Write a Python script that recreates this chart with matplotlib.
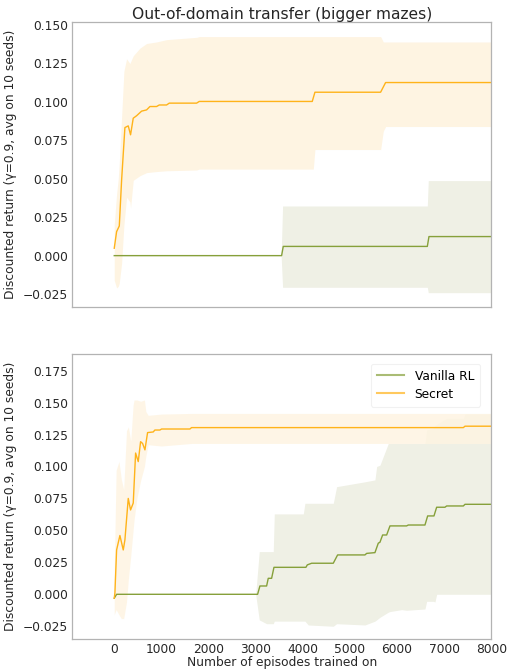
import matplotlib
matplotlib.use("Agg")
import matplotlib.pyplot as plt

# colours
GREEN = "#86a03a"
ORANGE = "#ffb31a"
GREEN_FILL = "#eff0e5"
ORANGE_FILL = "#fef4e2"

# ---------------- top panel: out-of-domain transfer ----------------
top_secret_x = [0, 50, 107, 156, 226, 297, 346, 403, 474, 580, 686, 757, 898, 955,
                1110, 1167, 1747, 1803, 4200, 4257, 5650, 5756, 8000]
top_secret_y = [0.0048, 0.0156, 0.0193, 0.049, 0.0833, 0.0844, 0.0786, 0.0894, 0.091,
                0.094, 0.0948, 0.097, 0.097, 0.098, 0.098, 0.0992, 0.0992, 0.1003,
                0.1003, 0.1063, 0.1063, 0.1126, 0.1126]
top_secret_band_x = [0, 50, 85, 106, 156, 205, 262, 332, 346, 403, 545, 686, 898, 1110,
                     1747, 1803, 4222, 4257, 5651, 5707, 5757, 8000]
top_secret_hi = [0.02, 0.04, 0.05, 0.06, 0.09, 0.12, 0.128, 0.125, 0.126, 0.13, 0.135,
                 0.138, 0.139, 0.1405, 0.142, 0.1425, 0.1425, 0.1425, 0.1425, 0.139,
                 0.139, 0.139]
top_secret_lo = [-0.016, -0.021, -0.02, -0.018, -0.005, 0.02, 0.038, 0.035, 0.031, 0.049,
                 0.052, 0.054, 0.0547, 0.0552, 0.0557, 0.0563, 0.0563, 0.069, 0.069,
                 0.081, 0.084, 0.084]

top_vanilla_x = [0, 3550, 3585, 6641, 6676, 8000]
top_vanilla_y = [0.0, 0.0, 0.006, 0.006, 0.0124, 0.0124]
top_vanilla_band_x = [0, 3540, 3571, 6641, 6661, 8000]
top_vanilla_hi = [0.0, 0.0, 0.0323, 0.0323, 0.0488, 0.0488]
top_vanilla_lo = [0.0, 0.0, -0.0206, -0.0206, -0.0241, -0.0241]

# ---------------- bottom panel ----------------
bot_secret_x = [0, 14, 50, 120, 191, 226, 297, 346, 403, 453, 509, 559, 601, 651, 707,
                827, 862, 968, 1004, 1605, 1640, 7405, 7440, 8000]
bot_secret_y = [-0.003, 0.001, 0.0347, 0.046, 0.0347, 0.0425, 0.075, 0.066, 0.0714,
                0.1105, 0.1038, 0.1194, 0.118, 0.113, 0.1265, 0.127, 0.1285, 0.1285,
                0.1293, 0.1293, 0.1304, 0.1304, 0.1315, 0.1315]
bot_secret_band_x = [0, 40, 100, 150, 200, 260, 300, 350, 400, 420, 480, 560, 640, 670,
                     720, 1000, 1640, 8000]
bot_secret_hi = [0.02, 0.097, 0.104, 0.09, 0.082, 0.128, 0.131, 0.12, 0.148, 0.152,
                 0.152, 0.151, 0.152, 0.143, 0.140, 0.141, 0.1415, 0.1415]
bot_secret_lo = [-0.016, -0.012, -0.016, -0.019, -0.019, -0.006, 0.012, 0.03, 0.05,
                 0.058, 0.075, 0.089, 0.100, 0.108, 0.117, 0.116, 0.118, 0.118]

bot_vanilla_x = [0, 50, 2808, 3041, 3090, 3232, 3267, 3338, 3388, 4066, 4095, 4187,
                 4646, 4738, 5318, 5354, 5530, 5601, 5636, 5693, 5778, 5849, 6202,
                 6237, 6591, 6648, 6782, 6839, 7015, 7051, 7405, 7440, 8000]
bot_vanilla_y = [-0.003, 0.0, 0.0, 0.0, 0.0065, 0.0065, 0.0125, 0.0125, 0.0211, 0.0211,
                 0.023, 0.0243, 0.0243, 0.0308, 0.0308, 0.032, 0.0326, 0.040, 0.0407,
                 0.0464, 0.0464, 0.0535, 0.0535, 0.0542, 0.0542, 0.0613, 0.0613,
                 0.0681, 0.0681, 0.0691, 0.0691, 0.0704, 0.0704]
bot_vanilla_band_x = [0, 3000, 3076, 3232, 3373, 3395, 4010, 4045, 4116, 4646, 4717,
                      5318, 5530, 5566, 5636, 5813, 5849, 6096, 6202, 6591, 6627, 6768,
                      6803, 6839, 7051, 7405, 7440, 8000]
bot_vanilla_hi = [0.0, 0.0, 0.0334, 0.0334, 0.0334, 0.0629, 0.0629, 0.0712, 0.0712,
                  0.0712, 0.0842, 0.088, 0.0895, 0.10, 0.101, 0.118, 0.118, 0.118, 0.118,
                  0.118, 0.1286, 0.130, 0.132, 0.133, 0.1377, 0.1377, 0.141, 0.141]
bot_vanilla_lo = [0.0, 0.0, -0.020, -0.023, -0.023, -0.021, -0.021, -0.021, -0.024,
                  -0.025, -0.023, -0.024, -0.021, -0.020, -0.018, -0.014, -0.0135,
                  -0.012, -0.0125, -0.0115, -0.0055, -0.0055, -0.006, 0.0, 0.0, 0.0,
                  0.0, 0.0]

x_ticks = [0, 1000, 2000, 3000, 4000, 5000, 6000, 7000, 8000]
top_yticks = [-0.025, 0.0, 0.025, 0.05, 0.075, 0.1, 0.125, 0.15]
bot_yticks = [-0.025, 0.0, 0.025, 0.05, 0.075, 0.1, 0.125, 0.15, 0.175]

ylabel = "Discounted return (\u03b3=0.9, avg on 10 seeds)"

plt.rcParams["font.family"] = "DejaVu Sans"
fs = 8.8

fig = plt.figure(figsize=(5.08, 6.69), dpi=100)
ax1 = fig.add_axes([0.1423, 0.5416, 0.825, 0.4251])
ax2 = fig.add_axes([0.1423, 0.0444, 0.825, 0.4265])

for ax in (ax1, ax2):
    for s in ax.spines.values():
        s.set_color("#b3b3b3")
        s.set_linewidth(0.9)
    ax.tick_params(length=0, labelsize=fs, colors="#262626", pad=3)
    ax.set_xlim(-890, 8000)
    ax.set_ylabel(ylabel, fontsize=fs, color="#262626", labelpad=4)

# top panel
ax1.fill_between(top_vanilla_band_x, top_vanilla_lo, top_vanilla_hi, color=GREEN_FILL, lw=0)
ax1.fill_between(top_secret_band_x, top_secret_lo, top_secret_hi, color=ORANGE_FILL, lw=0)
ax1.plot(top_vanilla_x, top_vanilla_y, color=GREEN, lw=1.0)
ax1.plot(top_secret_x, top_secret_y, color=ORANGE, lw=1.0)
ax1.set_ylim(-0.0332, 0.1518)
ax1.set_yticks(top_yticks)
ax1.set_yticklabels(["\u22120.025", "0.000", "0.025", "0.050", "0.075", "0.100", "0.125", "0.150"])
ax1.set_xticks([])
ax1.set_title("Out-of-domain transfer (bigger mazes)", fontsize=11.2, color="#262626", pad=2.5)

# bottom panel
ax2.fill_between(bot_vanilla_band_x, bot_vanilla_lo, bot_vanilla_hi, color=GREEN_FILL, lw=0)
ax2.fill_between(bot_secret_band_x, bot_secret_lo, bot_secret_hi, color=ORANGE_FILL, lw=0,
                 alpha=0.85)
ax2.plot(bot_vanilla_x, bot_vanilla_y, color=GREEN, lw=1.0, label="Vanilla RL")
ax2.plot(bot_secret_x, bot_secret_y, color=ORANGE, lw=1.0, label="Secret")
ax2.set_ylim(-0.0352, 0.188)
ax2.set_yticks(bot_yticks)
ax2.set_yticklabels(["\u22120.025", "0.000", "0.025", "0.050", "0.075", "0.100", "0.125",
                     "0.150", "0.175"])
ax2.set_xticks(x_ticks)
ax2.set_xlabel("Number of episodes trained on", fontsize=fs, color="#262626", labelpad=0)
leg = ax2.legend(loc="upper right", fontsize=fs, frameon=True, handlelength=2.2,
                 borderpad=0.5, labelspacing=0.4, handletextpad=0.9,
                 bbox_to_anchor=(0.988, 0.988))
leg.get_frame().set_edgecolor("#eeeeee")
leg.get_frame().set_linewidth(0.8)
for h in leg.get_lines():
    h.set_alpha(0.7)
    h.set_linewidth(1.5)

fig.savefig("out.png", dpi=100)
